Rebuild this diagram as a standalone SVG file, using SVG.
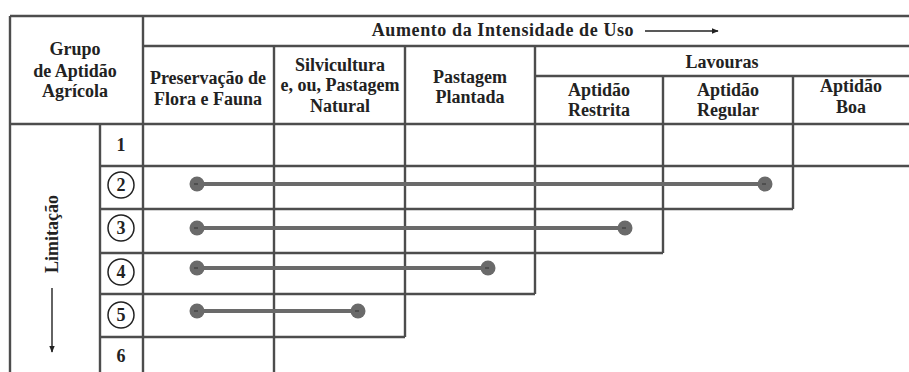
<svg xmlns="http://www.w3.org/2000/svg" width="909" height="372" viewBox="0 0 909 372">
<style>
.g{stroke:#4d4d4d;stroke-width:2.4;fill:none}
.t{font-family:'Liberation Serif','Times New Roman','DejaVu Serif',serif;font-weight:bold;font-size:18px;fill:#222;text-anchor:middle}
.n{font-size:18px}
.bar{stroke:#6a6a6a;stroke-width:4;stroke-linecap:butt}
.dot{fill:#6a6a6a}
.nc{fill:none;stroke:#222;stroke-width:1.5}
</style>
<defs>
<marker id="ah" viewBox="0 0 10 10" refX="9" refY="5" markerWidth="7" markerHeight="7" orient="auto" markerUnits="userSpaceOnUse">
<path d="M0,1 L10,5 L0,9 z" fill="#222"/>
</marker>
<g id="db"><circle r="7.5" class="dot"/><line x1="-3" y1="0" x2="1" y2="0" stroke="#333" stroke-width="1"/></g>
</defs>
<rect width="909" height="372" fill="#fff"/>
<g id="grid">
<path class="g" d="M10,16 H909 M10,16 V372 M143,16 V372 M143,46 H909 M535,76 H909 M10,124 H909 M100,124 V372"/>
<path class="g" d="M274,46 V372 M405,46 V337 M535,46 V294 M663,76 V253 M793,76 V209"/>
<path class="g" d="M100,166 H909 M100,209 H793 M100,253 H663 M100,294 H535 M100,337 H405"/>
</g>
<g id="header-grupo"><text class="t"><tspan x="75" y="55">Grupo</tspan><tspan x="75" y="77">de Aptidão</tspan><tspan x="75" y="97">Agrícola</tspan></text></g>
<g id="header-aumento"><text class="t" x="503" y="36" letter-spacing="0.6">Aumento da Intensidade de Uso</text><line x1="645" y1="31" x2="718" y2="31" stroke="#222" stroke-width="1.4" marker-end="url(#ah)"/></g>
<g id="col-preservacao"><text class="t"><tspan x="208" y="84">Preservação de</tspan><tspan x="208" y="105">Flora e Fauna</tspan></text></g>
<g id="col-silvicultura"><text class="t"><tspan x="340" y="71">Silvicultura</tspan><tspan x="340" y="91">e, ou, Pastagem</tspan><tspan x="340" y="112">Natural</tspan></text></g>
<g id="col-pastagem"><text class="t"><tspan x="470" y="83">Pastagem</tspan><tspan x="470" y="103">Plantada</tspan></text></g>
<g id="col-lavouras"><text class="t" x="722" y="68">Lavouras</text></g>
<g id="col-restrita"><text class="t"><tspan x="599" y="96">Aptidão</tspan><tspan x="599" y="116">Restrita</tspan></text></g>
<g id="col-regular"><text class="t"><tspan x="728" y="96">Aptidão</tspan><tspan x="728" y="116">Regular</tspan></text></g>
<g id="col-boa"><text class="t"><tspan x="851" y="92">Aptidão</tspan><tspan x="851" y="113">Boa</tspan></text></g>
<g id="limitacao"><text class="t" transform="translate(58,234) rotate(-90)" x="0" y="0">Limitação</text><line x1="52" y1="288" x2="52" y2="352" stroke="#222" stroke-width="1.4" marker-end="url(#ah)"/></g>
<g id="row1"><text class="t n" x="121" y="151">1</text></g>
<g id="row2"><circle class="nc" cx="121" cy="185" r="13"/><text class="t n" x="121" y="191">2</text></g>
<g id="row3"><circle class="nc" cx="121" cy="228" r="13"/><text class="t n" x="121" y="234">3</text></g>
<g id="row4"><circle class="nc" cx="121" cy="272" r="13"/><text class="t n" x="121" y="278">4</text></g>
<g id="row5"><circle class="nc" cx="121" cy="315" r="13"/><text class="t n" x="121" y="321">5</text></g>
<g id="row6"><text class="t n" x="121" y="362">6</text></g>
<g id="connectors">
<line class="bar" x1="197" y1="184" x2="765" y2="184"/><use href="#db" x="197" y="184"/><use href="#db" x="765" y="184"/>
<line class="bar" x1="197" y1="228" x2="625" y2="228"/><use href="#db" x="197" y="228"/><use href="#db" x="625" y="228"/>
<line class="bar" x1="197" y1="268" x2="488" y2="268"/><use href="#db" x="197" y="268"/><use href="#db" x="488" y="268"/>
<line class="bar" x1="197" y1="311" x2="358" y2="311"/><use href="#db" x="197" y="311"/><use href="#db" x="358" y="311"/>
</g>
</svg>
